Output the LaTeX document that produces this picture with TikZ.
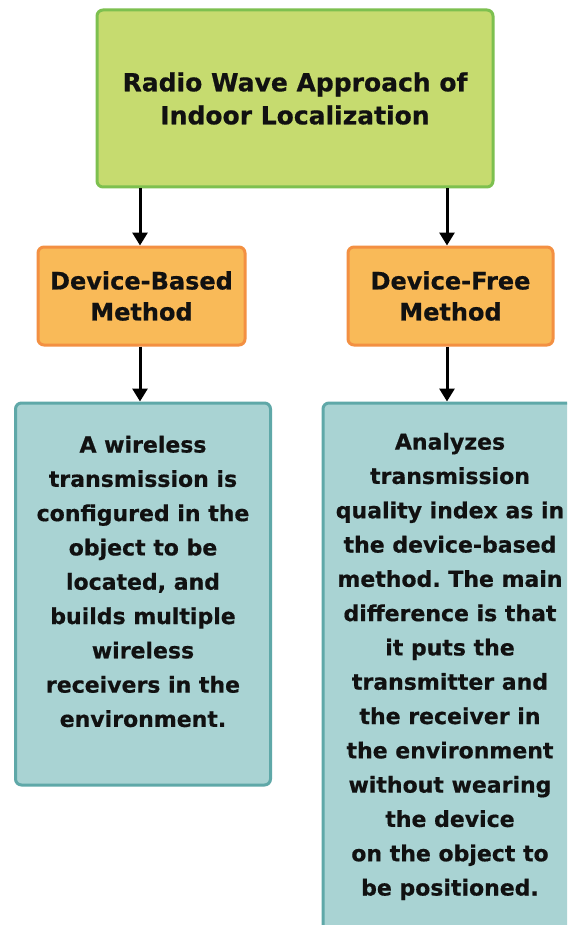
\documentclass[tikz,border=0pt]{standalone}
\usepackage{fontspec}
\setmainfont{DejaVu Sans}[BoldFeatures={FakeBold=0.6}]
\usetikzlibrary{arrows.meta}
\frenchspacing
\definecolor{gfill}{HTML}{C6DB6F}
\definecolor{gline}{HTML}{7DC04F}
\definecolor{ofill}{HTML}{F9BA58}
\definecolor{oline}{HTML}{F39042}
\definecolor{bfill}{HTML}{A9D3D3}
\definecolor{bline}{HTML}{5FA8A8}
\definecolor{txt}{HTML}{111111}
\tikzset{
  box/.style={rectangle, rounded corners=6pt, line width=3pt, inner sep=0pt, text=txt, align=center, font=\bfseries},
  greenbox/.style={box, draw=gline, fill=gfill, minimum width=396pt, minimum height=177pt,
     font=\bfseries\fontsize{25}{33}\selectfont},
  orangebox/.style={box, draw=oline, fill=ofill, minimum height=98pt,
     font=\bfseries\fontsize{24}{31}\selectfont},
  bluebox/.style={box, draw=bline, fill=bfill},
  bluetext/.style={text=txt, align=center, inner sep=0pt, font=\bfseries\fontsize{22}{34.3}\selectfont},
  arr/.style={line width=3pt, draw=black, -{Triangle[width=15pt,length=13pt]}}
}
\begin{document}
\begin{tikzpicture}[x=1pt,y=-1pt]
\useasboundingbox (0,0) rectangle (567,925);
\clip (0,0) rectangle (567,925);
\fill[white] (0,0) rectangle (567,925);

\node[greenbox] (top) at (295,98.5) {Radio Wave Approach of\\Indoor Localization};

\node[orangebox, minimum width=207pt] (ol) at (141.5,296) {Device-Based\\Method};
\node[orangebox, minimum width=205pt] (or) at (450.5,296) {Device-Free\\Method};

\node[bluebox, minimum width=255pt, minimum height=382pt] (bl) at (143,594) {};
\node[bluetext] (blt) at (143,581.5) {A wireless\\transmission is\\configured in the\\object to be\\located, and\\builds multiple\\wireless\\receivers in the\\environment.};

\node[bluebox, minimum width=254pt, minimum height=554pt] (br) at (450,680) {};
\node[bluetext] (brt) at (450,666.5) {Analyzes\\transmission\\quality index as in\\the device-based\\method. The main\\difference is that\\it puts the\\transmitter and\\the receiver in\\the environment\\without wearing\\the device\\on the object to\\be positioned.};

\draw[arr] (top.south -| 140,0) -- (ol.north -| 140,0);
\draw[arr] (top.south -| 447,0) -- (or.north -| 447,0);
\draw[arr] (ol.south -| 140,0) -- (bl.north -| 140,0);
\draw[arr] (or.south -| 447,0) -- (br.north -| 447,0);
\end{tikzpicture}
\end{document}
